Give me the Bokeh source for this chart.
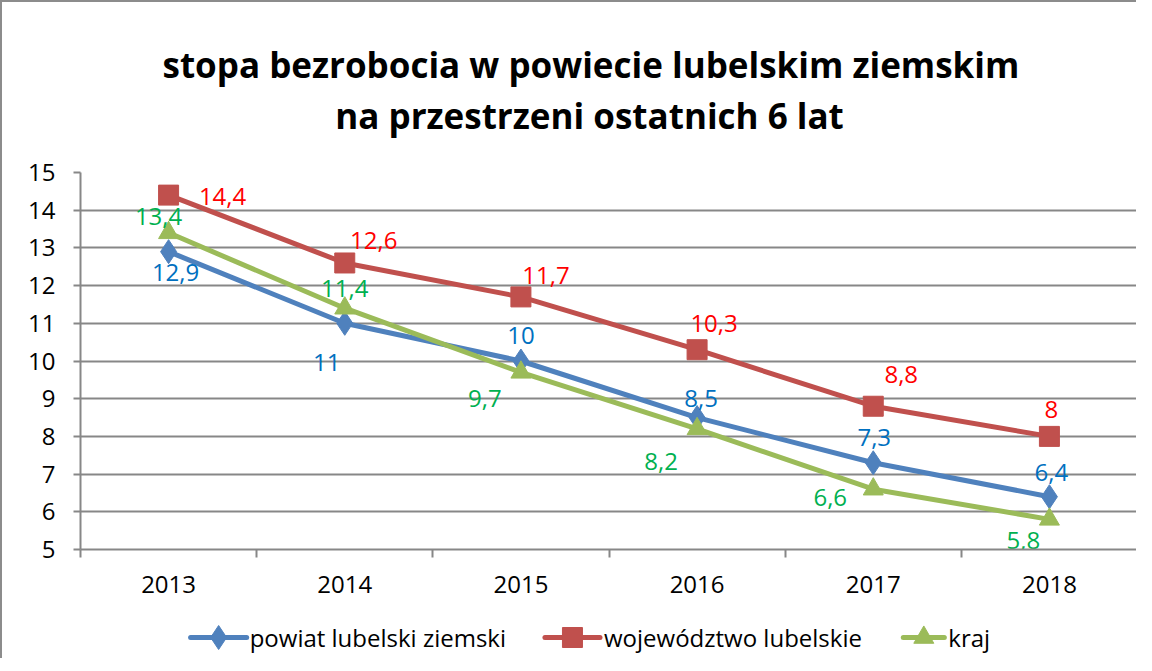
from bokeh.plotting import figure
from bokeh.layouts import column
from bokeh.models import ColumnDataSource, FixedTicker, Title, Range1d
from bokeh.core.properties import value
from bokeh.embed import file_html
from bokeh.resources import INLINE

# ---- data ----
years = ["2013", "2014", "2015", "2016", "2017", "2018"]
powiat = [12.9, 11.0, 10.0, 8.5, 7.3, 6.4]
wojewodztwo = [14.4, 12.6, 11.7, 10.3, 8.8, 8.0]
kraj = [13.4, 11.4, 9.7, 8.2, 6.6, 5.8]
series_names = ["powiat lubelski ziemski", "województwo lubelskie", "kraj"]
title_lines = ["stopa bezrobocia w powiecie lubelskim ziemskim",
               "na przestrzeni ostatnich 6 lat"]
y_ticks = list(range(5, 16))

# ---- styles ----
line_colors = ["#4f81bd", "#c0504d", "#9bbb59"]
label_colors = ["#0070c0", "#ff0000", "#00b050"]
markers = ["diamond", "square", "triangle"]
marker_sizes = [24, 20, 20]
# label offsets (screen px) per point
label_dx = [
    [7, -18, 0, 4, 1, 2],
    [54, 29, 25, 17, 28, 2],
    [-10, 0, -36, -36, -43, -26],
]
label_dy = [
    [21, 39, -26, -19, -25, -24],
    [1, -22, -21, -26, -32, -27],
    [-16, -20, 26, 33, 8, 21],
]
# legend strip layout (screen px inside the strip)
leg_line_x0 = [188, 542, 900]
leg_line_x1 = [244, 597, 941]
leg_text_x = [247, 601, 945]
leg_y = 21

FONT = "Open Sans"
FS = "24px"
GRID = "#878787"
BORDER = "2px solid #8c8c8c"
NBSP = "\u00a0"

xs = [i + 0.5 for i in range(len(years))]

p = figure(width=1136, height=598,
           x_range=Range1d(0, len(years)), y_range=Range1d(5, 15),
           output_backend="svg", toolbar_location=None,
           min_border_left=78, min_border_right=1,
           min_border_top=170, min_border_bottom=51)
p.title = None
p.outline_line_color = None
p.background_fill_color = "white"
p.border_fill_color = "white"
p.styles = {"border-left": BORDER, "border-top": BORDER}

title_text = title_lines[0] + "\n" + NBSP * 19 + title_lines[1]
p.add_layout(Title(text=title_text, align="left", offset=82, text_font=FONT,
                   text_font_style="bold", text_font_size="35px",
                   text_color="black", standoff=66, text_line_height=1.1), "above")

# axes
p.xaxis.ticker = FixedTicker(ticks=xs, minor_ticks=list(range(len(years) + 1)))
p.xaxis.major_label_overrides = {x: y for x, y in zip(xs, years)}
p.xaxis.major_tick_line_color = None
p.xaxis.major_tick_out = 0
p.xaxis.major_tick_in = 0
p.xaxis.minor_tick_line_color = GRID
p.xaxis.minor_tick_line_width = 2
p.xaxis.minor_tick_out = 8
p.xaxis.minor_tick_in = 0
p.xaxis.major_label_standoff = 18

p.yaxis.ticker = FixedTicker(ticks=y_ticks)
p.yaxis.minor_tick_line_color = None
p.yaxis.major_tick_out = 7
p.yaxis.major_tick_in = 0
p.yaxis.major_tick_line_color = GRID
p.yaxis.major_tick_line_width = 2
p.yaxis.major_label_standoff = 18

for ax in (p.xaxis, p.yaxis):
    ax.axis_line_color = GRID
    ax.axis_line_width = 2
    ax.major_label_text_font = FONT
    ax.major_label_text_font_size = FS
    ax.major_label_text_color = "black"

p.xgrid.grid_line_color = None
p.ygrid.ticker = FixedTicker(ticks=y_ticks)
p.ygrid.grid_line_color = GRID
p.ygrid.grid_line_width = 2

for i, vals in enumerate([powiat, wojewodztwo, kraj]):
    src = ColumnDataSource(dict(
        x=xs, y=vals,
        t=[f"{v:g}".replace(".", ",") for v in vals],
        dx=label_dx[i], dy=label_dy[i],
    ))
    p.line("x", "y", source=src, line_color=line_colors[i], line_width=5)
    p.scatter("x", "y", source=src, marker=markers[i], size=marker_sizes[i],
              fill_color=line_colors[i], line_color=line_colors[i])
    p.text("x", "y", text="t", source=src, x_offset="dx", y_offset="dy",
           text_color=label_colors[i], text_font=value(FONT),
           text_font_size=FS, text_align="center", text_baseline="middle")

# legend strip below the chart; its frame is aligned with the chart frame by
# the column layout, so its x range spans the chart frame's pixel extent
lg = figure(width=1136, height=60, x_range=Range1d(78, 1134), y_range=Range1d(0, 60),
            x_axis_location=None, y_axis_location=None,
            output_backend="svg", toolbar_location=None,
            min_border_left=0, min_border_right=0, min_border_top=0, min_border_bottom=0)
lg.title = None
lg.grid.visible = False
lg.outline_line_color = None
lg.border_fill_color = "white"
lg.background_fill_color = "white"
lg.styles = {"border-left": BORDER}

lsrc = ColumnDataSource(dict(
    x0=leg_line_x0, x1=leg_line_x1,
    xm=[(a + b) / 2 for a, b in zip(leg_line_x0, leg_line_x1)],
    y=[leg_y] * 3, tx=leg_text_x, name=series_names,
    color=line_colors, marker=markers, size=marker_sizes,
))
lg.segment("x0", "y", "x1", "y", source=lsrc, line_color="color", line_width=5,
           line_cap="round")
lg.scatter("xm", "y", source=lsrc, marker="marker", size="size",
           fill_color="color", line_color="color")
lg.text("tx", "y", text="name", source=lsrc, text_color="black",
        text_font=value(FONT), text_font_size=FS, text_align="left",
        text_baseline="middle")

layout = column(p, lg, spacing=0)
open("out.html", "w").write(file_html(layout, INLINE))
